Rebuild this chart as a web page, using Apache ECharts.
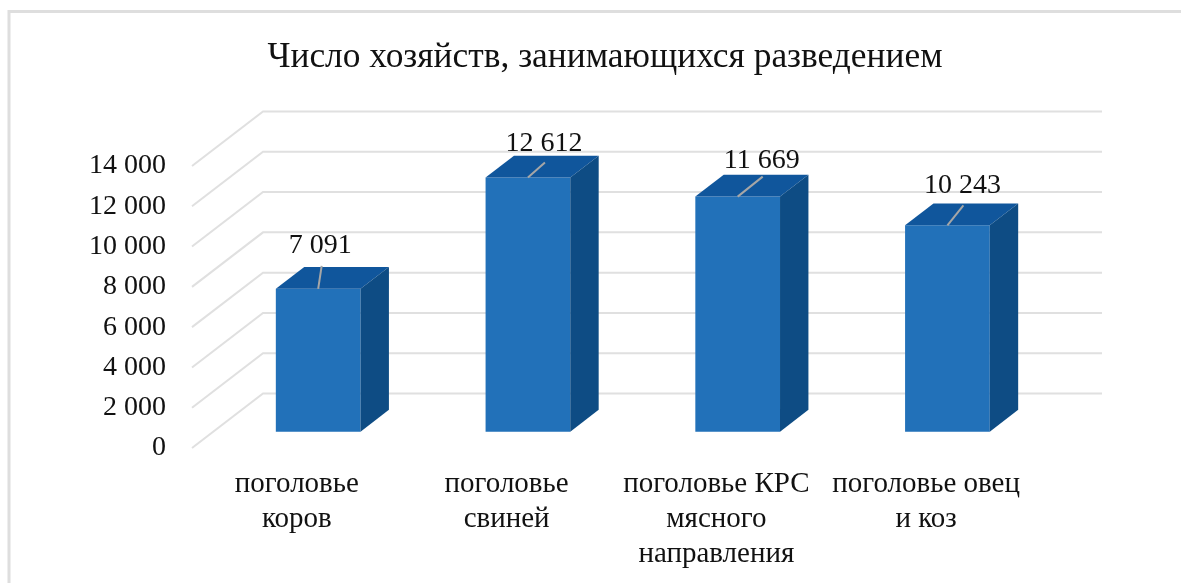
<!DOCTYPE html>
<html>
<head>
<meta charset="utf-8">
<style>
  html, body { margin: 0; padding: 0; background: #fff; }
  #main { width: 1181px; height: 583px; }
</style>
<script src="https://cdn.jsdelivr.net/npm/echarts@6/dist/echarts.min.js"></script>
</head>
<body>
<div id="main"></div>
<script>
var titleText = 'Число хозяйств, занимающихся разведением'
var categories = ['поголовье\nкоров', 'поголовье\nсвиней', 'поголовье КРС\nмясного\nнаправления', 'поголовье овец\nи коз']
var values = [7091, 12612, 11669, 10243]
var yTicks = [0, 2000, 4000, 6000, 8000, 10000, 12000, 14000]

// label and leader positions relative to the bar's front top edge
var labelShift = [[2, -43], [16, -34], [24, -36], [15, -40]]
var leaderTip = [[3.5, -23], [17, -15], [25, -20], [16, -20]]

// fake 3d: how far the wall sits behind the axis plane, and where the bar sits inside it
var depthX = 71
var depthY = -54.5
var barFront = 0.3
var barBack = 0.7
var barWidth = 84.7

function fmt (v) {
  return String(v).replace(/\B(?=(\d{3})+$)/g, ' ')
}

function renderWall (params, api) {
  var p = api.coord([0, api.value(0)])
  var rect = params.coordSys
  var x0 = rect.x
  var x1 = rect.x + depthX
  var x2 = rect.x + rect.width + depthX
  var y0 = p[1]
  var y1 = p[1] + depthY
  return {
    type: 'polyline',
    shape: { points: [[x0, y0], [x1, y1], [x2, y1]] },
    style: { fill: null, stroke: '#e0e0e0', lineWidth: 2 },
    silent: true
  }
}

function renderBar (params, api) {
  var i = api.value(0)
  var top = api.coord([i, api.value(1)])
  var bottom = api.coord([i, 0])
  var fx = top[0] + depthX * barFront
  var fy = depthY * barFront
  var bx = depthX * (barBack - barFront)
  var by = depthY * (barBack - barFront)
  var l = fx - barWidth / 2
  var r = fx + barWidth / 2
  var t = top[1] + fy
  var b = bottom[1] + fy
  return {
    type: 'group',
    children: [
      {
        type: 'polygon',
        shape: { points: [[l, t], [l, b], [r, b], [r, t]] },
        style: { fill: '#2271b9' }
      },
      {
        type: 'polygon',
        shape: { points: [[l, t], [l + bx, t + by], [r + bx, t + by], [r, t]] },
        style: { fill: '#10569c' }
      },
      {
        type: 'polygon',
        shape: { points: [[r, t], [r + bx, t + by], [r + bx, b + by], [r, b]] },
        style: { fill: '#0e4c84' }
      },
      {
        type: 'line',
        shape: { x1: fx, y1: t, x2: fx + leaderTip[i][0], y2: t + leaderTip[i][1] },
        style: { stroke: '#a6a6a6', lineWidth: 2 }
      },
      {
        type: 'text',
        style: {
          x: fx + labelShift[i][0],
          y: t + labelShift[i][1],
          text: fmt(api.value(1)),
          align: 'center',
          verticalAlign: 'middle',
          fill: '#111',
          font: '28px "Liberation Serif"'
        }
      }
    ]
  }
}

var myChart = echarts.init(document.getElementById('main'), null, { renderer: 'canvas' })
myChart.setOption({
  backgroundColor: '#fff',
  animation: false,
  title: {
    text: titleText,
    left: 600,
    top: 35,
    textAlign: 'center',
    textStyle: { fontFamily: 'Liberation Serif', fontSize: 35.4, fontWeight: 'normal', color: '#111' }
  },
  grid: { left: 192, right: 150, top: 166, bottom: 135 },
  xAxis: {
    type: 'category',
    data: categories,
    axisLine: { show: false },
    axisTick: { show: false },
    axisLabel: {
      interval: 0,
      margin: 19,
      color: '#111',
      fontFamily: 'Liberation Serif',
      fontSize: 29,
      lineHeight: 35
    }
  },
  yAxis: {
    type: 'value',
    min: 0,
    max: 14000,
    interval: 2000,
    axisLine: { show: false },
    axisTick: { show: false },
    splitLine: { show: false },
    axisLabel: {
      margin: 26,
      padding: [3, 0, 0, 0],
      color: '#111',
      fontFamily: 'Liberation Serif',
      fontSize: 28,
      formatter: fmt
    }
  },
  graphic: [
    {
      type: 'polyline',
      shape: { points: [[9, 583], [9, 11.5], [1181, 11.5]] },
      style: { fill: null, stroke: '#dedede', lineWidth: 3 },
      silent: true
    }
  ],
  series: [
    {
      type: 'custom',
      renderItem: renderWall,
      data: yTicks.map(function (v) { return [v] }),
      encode: { y: 0 },
      silent: true,
      z: 1
    },
    {
      type: 'custom',
      renderItem: renderBar,
      data: values.map(function (v, i) { return [i, v] }),
      encode: { x: 0, y: 1 },
      silent: true,
      z: 2
    }
  ]
})
</script>
</body>
</html>
